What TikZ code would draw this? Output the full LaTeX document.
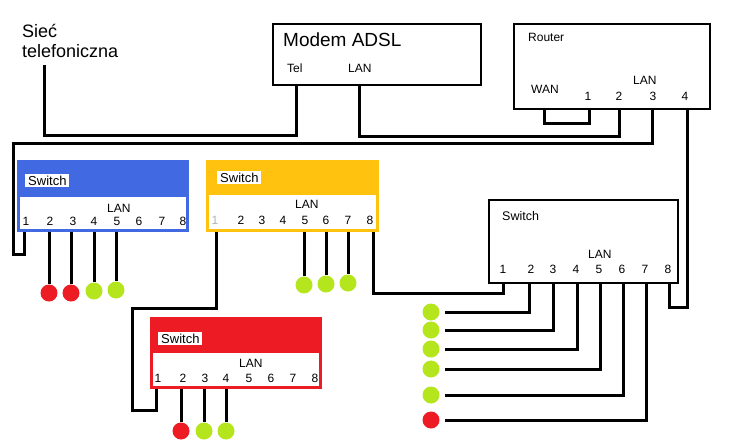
\documentclass[tikz,border=0pt]{standalone}
\usepackage{fontspec}
\setmainfont{Liberation Sans}
\definecolor{swblue}{RGB}{65,105,225}
\definecolor{swgold}{RGB}{255,194,14}
\definecolor{swred}{RGB}{237,28,36}
\definecolor{ledgreen}{RGB}{181,230,29}
\definecolor{ledred}{RGB}{237,28,36}
\begin{document}
\begin{tikzpicture}[x=1pt,y=-1pt,
  wire/.style={line width=3pt, line join=miter},
  box/.style={draw, line width=1.5pt, inner sep=0pt, anchor=north west},
  swbox/.style={inner sep=0pt, anchor=north west, minimum width=172pt, minimum height=72pt},
  lbl/.style={inner sep=0pt, anchor=base west, font=\fontsize{12}{14}\selectfont},
  num/.style={inner sep=0pt, anchor=base, font=\fontsize{12}{14}\selectfont},
  led/.style={circle, inner sep=0pt, minimum size=17pt},
  gled/.style={led, fill=ledgreen},
  rled/.style={led, fill=ledred},
  swtag/.style={fill=white, inner xsep=3pt, inner ysep=2pt, anchor=base west, font=\fontsize{13}{15}\selectfont}]
\useasboundingbox (0,0) rectangle (730,442);

% ---------- telephone network label
\node[lbl, font=\fontsize{18}{20}\selectfont] (siec1) at (22,37) {Sieć};
\node[lbl, font=\fontsize{18}{20}\selectfont] (siec2) at (22,57) {telefoniczna};
\coordinate (phone) at (44,65);

% ---------- Modem
\node[box, minimum width=208pt, minimum height=61pt] (modem) at (272,23) {};
\node[lbl, font=\fontsize{19}{22}\selectfont] (modemt) at (283,46) {Modem ADSL};
\node[lbl] (telt) at (287,72) {Tel};
\node[lbl] (mlant) at (348,72) {LAN};
\coordinate (tel) at (296,84);
\coordinate (mlan) at (359,84);

% ---------- Router
\node[box, minimum width=196pt, minimum height=85pt] (router) at (513,23) {};
\node[lbl] (routert) at (528,41) {Router};
\node[lbl] (want) at (531,93) {WAN};
\node[lbl] (rlant) at (633,84) {LAN};
\node[num] (rn1) at (588,100) {1};
\node[num] (rn2) at (619,100) {2};
\node[num] (rn3) at (653,100) {3};
\node[num] (rn4) at (685,100) {4};
\coordinate (wan) at (544,108);
\coordinate (p1) at (589,108);
\coordinate (p2) at (619,108);
\coordinate (p3) at (652,108);
\coordinate (p4) at (687,108);

% ---------- Blue switch
\node[swbox, fill=swblue] (bsw) at (17,160) {};
\fill[white] (20,197) rectangle (186,229);
\node[swtag] (bswt) at (25,185) {Switch};
\node[lbl] (blan) at (107,212) {LAN};
\foreach \n/\x in {1/26,2/50,3/73,4/94,5/117,6/139,7/162,8/183}
  \node[num] (bn\n) at (\x,225) {\n};
\coordinate (b1) at (24,232);
\coordinate (b2) at (49,232);
\coordinate (b3) at (71,232);
\coordinate (b4) at (94,232);
\coordinate (b5) at (116,232);

% ---------- Gold switch
\node[swbox, fill=swgold, minimum width=173pt] (osw) at (206,160) {};
\fill[white] (209,195) rectangle (376,229);
\node[swtag] (oswt) at (217,182) {Switch};
\node[lbl] (olan) at (295,208) {LAN};
\node[num, text=gray!60] (on1) at (215,224) {1};
\foreach \n/\x in {2/241,3/262,4/283,5/305,6/326,7/348,8/370}
  \node[num] (on\n) at (\x,224) {\n};
\coordinate (o1) at (216,232);
\coordinate (o5) at (304,232);
\coordinate (o6) at (326,232);
\coordinate (o7) at (348,232);
\coordinate (o8) at (373,232);

% ---------- Red switch
\node[swbox, fill=swred] (rsw) at (150,317) {};
\fill[white] (153,353) rectangle (319,386);
\node[swtag] (rswt) at (158,343) {Switch};
\node[lbl] (rlan) at (239,367) {LAN};
\foreach \n/\x in {1/158,2/183,3/205,4/226,5/249,6/271,7/293,8/315}
  \node[num] (rnn\n) at (\x,382) {\n};
\coordinate (r1) at (156,389);
\coordinate (r2) at (181,389);
\coordinate (r3) at (204,389);
\coordinate (r4) at (226,389);

% ---------- Big switch
\node[box, minimum width=189pt, minimum height=83pt] (ssw) at (488,199) {};
\node[lbl, font=\fontsize{12.5}{15}\selectfont] (sswt) at (502,220) {Switch};
\node[lbl] (slan) at (588,258) {LAN};
\foreach \n/\x in {1/503,2/531,3/553,4/576,5/599,6/622,7/645,8/668}
  \node[num] (sn\n) at (\x,273) {\n};
\foreach \n/\x in {1/503,2/529,3/553,4/577,5/600,6/623,7/646,8/669}
  \coordinate (s\n) at (\x,282);

% ---------- LEDs
\node[rled] (lb2) at (49,293) {};
\node[rled] (lb3) at (71,293) {};
\node[gled] (lb4) at (94,291) {};
\node[gled] (lb5) at (116,290) {};
\node[gled] (lo5) at (304,285) {};
\node[gled] (lo6) at (326,284) {};
\node[gled] (lo7) at (348,283) {};
\node[rled] (lr2) at (181,431) {};
\node[gled] (lr3) at (204,431) {};
\node[gled] (lr4) at (226,431) {};
\node[gled] (ls2) at (431,312) {};
\node[gled] (ls3) at (431,330) {};
\node[gled] (ls4) at (431,349) {};
\node[gled] (ls5) at (431,369) {};
\node[gled] (ls6) at (431,395) {};
\node[rled] (ls7) at (431,420) {};

% ---------- Wires
\draw[wire] (phone) -- (44,135) -| (tel);
\draw[wire] (mlan) -- (359,136) -| (p2);
\draw[wire] (wan) -- (544,123) -| (p1);
\draw[wire] (p3) |- (13,143) |- (24,254) -- (b1);
\draw[wire] (p4) -- (687,307) -| (s8);
\draw[wire] (o8) -- (373,293) -| (s1);
\draw[wire] (o1) -- (216,308) -| (132,410) -| (r1);
\foreach \p in {2,3,4,5} \draw[wire] (b\p) -- (lb\p.north);
\foreach \p in {5,6,7} \draw[wire] (o\p) -- (lo\p.north);
\foreach \p in {2,3,4} \draw[wire] (r\p) -- (lr\p.north);
\foreach \p in {2,...,7} \draw[wire] (s\p) |- ([xshift=5pt]ls\p.east);
\end{tikzpicture}
\end{document}
